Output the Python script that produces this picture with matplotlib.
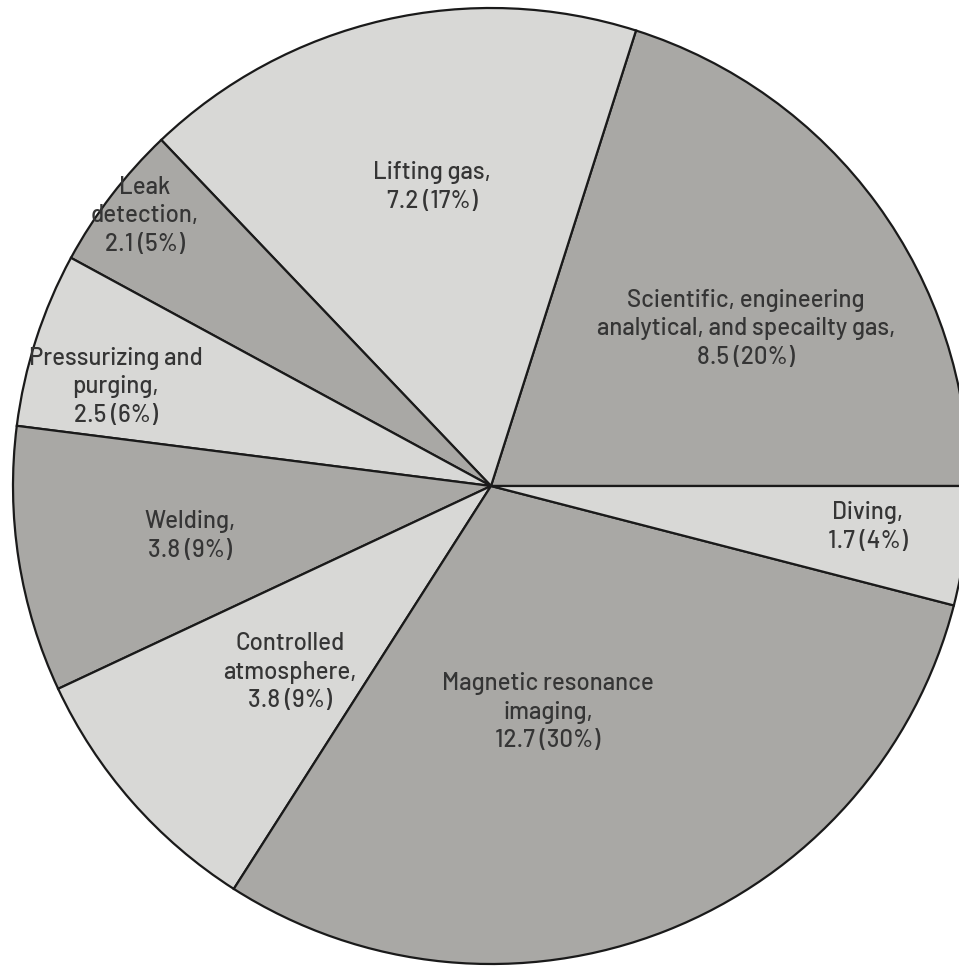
import matplotlib
matplotlib.use("Agg")
import matplotlib.pyplot as plt
from matplotlib import font_manager as fm

# Helium consumption by end use
categories = [
    "Scientific, engineering\nanalytical, and specailty gas",
    "Lifting gas",
    "Leak\ndetection",
    "Pressurizing and\npurging",
    "Welding",
    "Controlled\natmosphere",
    "Magnetic resonance\nimaging",
    "Diving",
]
values = [8.5, 7.2, 2.1, 2.5, 3.8, 3.8, 12.7, 1.7]

# Label anchor points (pixel coordinates, y measured from top)
label_xy = [
    (746, 329), (432, 187), (145, 216), (116, 387),
    (190, 536), (290, 672), (548, 712), (868, 527),
]

dark = "#a9a8a5"
light = "#d8d8d6"
colors = [dark, light, dark, light, dark, light, dark, light]

# Pick a DIN-like sans for the labels
installed = {f.name for f in fm.fontManager.ttflist}
label_font = next((n for n in ["Barlow", "Barlow Semi Condensed",
                               "Roboto Condensed", "Archivo Narrow"]
                   if n in installed), "DejaVu Sans")

W, H = 959, 967
fig = plt.figure(figsize=(W / 100, H / 100), dpi=100)
ax = fig.add_axes([0, 0, 1, 1])

cx, cy, r = 491, H - 486, 478
ax.pie(values, colors=colors, startangle=0, counterclock=True,
       center=(cx, cy), radius=r, frame=True,
       wedgeprops=dict(edgecolor="#1a1a1a", linewidth=1.6))
ax.set_xlim(0, W)
ax.set_ylim(0, H)
ax.set_aspect("equal")
ax.axis("off")

total = sum(values)
for name, v, (x, y) in zip(categories, values, label_xy):
    pct = round(v / total * 100)
    ax.text(x, H - y, f"{name},\n{v} ({pct}%)", ha="center", va="center",
            fontsize=17.3, fontweight=500, color="#353535", linespacing=1.32,
            family=[label_font, "DejaVu Sans"])

fig.savefig("out.png", dpi=100, facecolor="white")
